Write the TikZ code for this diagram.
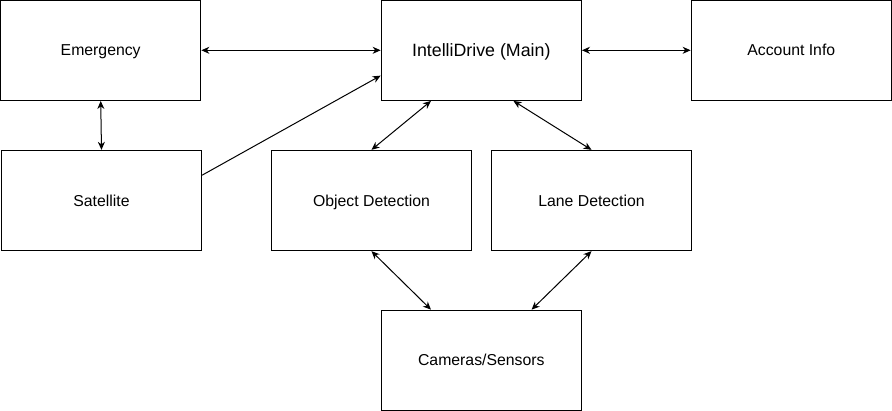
\documentclass[tikz,border=0pt]{standalone}
\usepackage{fontspec}
\setmainfont{Liberation Sans}
\usetikzlibrary{arrows.meta,calc}
\begin{document}
\begin{tikzpicture}[x=1pt,y=-1pt,
  box/.style={draw=black,line width=1.3pt,fill=white,minimum width=200pt,minimum height=100pt,inner sep=0pt,text height=15pt,text depth=3.7pt,font=\fontsize{15.8}{18}\selectfont},
  mainbox/.style={box,text height=16.7pt,text depth=4pt,font=\fontsize{17.8}{20}\selectfont},
  conn/.style={draw=black,line width=1pt,{Stealth[length=8pt,width=7pt,inset=2.5pt]}-{Stealth[length=8pt,width=7pt,inset=2.5pt]}},
  conn1/.style={draw=black,line width=1pt,-{Stealth[length=8pt,width=7pt,inset=2.5pt]}}]
\useasboundingbox (0,0) rectangle (892,411);
\node[box] (emerg) at (100.7,50.3) {Emergency};
\node[mainbox] (main) at (481.3,50.3) {IntelliDrive (Main)};
\node[box] (acct) at (791.3,50.3) {Account Info};
\node[box] (sat) at (101.5,200.5) {Satellite};
\node[box] (obj) at (371.5,200.5) {Object Detection};
\node[box] (lane) at (591.5,200.5) {Lane Detection};
\node[box] (cam) at (481.3,360.3) {Cameras/Sensors};
\draw[conn] (emerg.east) -- (main.west);
\draw[conn] (main.east) -- (acct.west);
\draw[conn] (emerg.south) -- (sat.north);
\draw[conn1] ($(sat.north east)!0.25!(sat.south east)$) -- ($(main.north west)!0.75!(main.south west)$);
\draw[conn] ($(main.south west)!0.25!(main.south east)$) -- (obj.north);
\draw[conn] ($(main.south west)!0.66!(main.south east)$) -- (lane.north);
\draw[conn] (obj.south) -- ($(cam.north west)!0.25!(cam.north east)$);
\draw[conn] (lane.south) -- ($(cam.north west)!0.75!(cam.north east)$);
\end{tikzpicture}
\end{document}
